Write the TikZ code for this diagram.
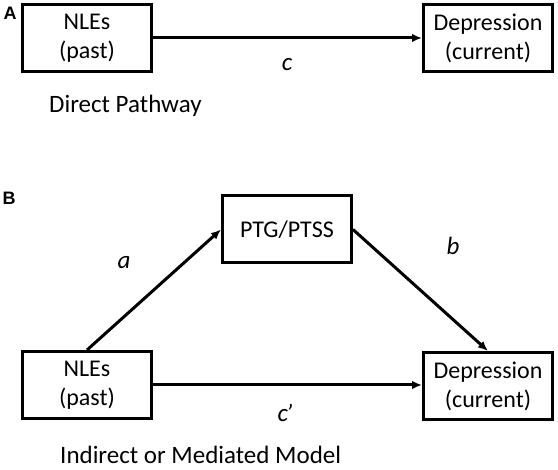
\documentclass[tikz,border=0pt]{standalone}
\usepackage{fontspec}
\setmainfont{Carlito}
\newfontfamily\panelfont{Liberation Sans}
\usetikzlibrary{arrows.meta}

\begin{document}
\begin{tikzpicture}[x=1pt,y=-1pt]
		\tikzset{> = {Latex[length=10pt,width=8.5pt]},
			var/.style = {draw, line width=3pt, minimum width=129pt, minimum height=67pt, align=center, inner sep=0pt, font=\fontsize{24}{29}\selectfont},
			lbl/.style = {font=\fontsize{25}{30}\selectfont\itshape},
			caption/.style = {anchor=west, inner sep=0pt, font=\fontsize{25}{30}\selectfont},
			pnl/.style = {font=\panelfont\bfseries\fontsize{18}{20}\selectfont}}
		\useasboundingbox (0,0) rectangle (558,470);
		\node[pnl] (PA) at (10,13){A};
		\node[var] (N1) at (87,38){NLEs\\(past)};
		\node[var] (D1) at (488,38){Depression\\(current)};
		\node[lbl] (C1) at (287,65){c};
		\node[caption] (T1) at (49,106){Direct Pathway};
		\draw[->, line width=3pt] (N1) -- (D1);
		\node[pnl] (PB) at (9,198){B};
		\node[var] (P) at (287,229.5){PTG/PTSS};
		\node[var] (N2) at (87,385){NLEs\\(past)};
		\node[var] (D2) at (488,386){Depression\\(current)};
		\node[lbl] (LA) at (124,263){a};
		\node[lbl] (LB) at (453,246){b};
		\node[lbl] (LC) at (285,413){c\kern-2pt’};
		\node[caption] (T2) at (60,455){Indirect or Mediated Model};
		\draw[->, line width=3pt] (N2.north) -- (P.west);
		\draw[->, line width=3pt] (P.east) -- (D2.north);
		\draw[->, line width=3pt] (N2.east) -- (N2.east -| D2.west);
	\end{tikzpicture}
\end{document}
